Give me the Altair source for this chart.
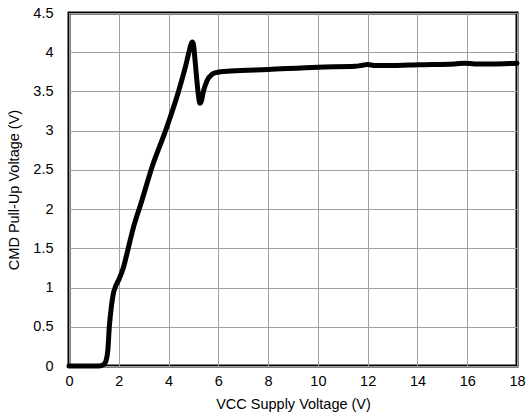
import altair as alt
import pandas as pd

vcc = [0, 1.2, 1.4, 1.5, 1.56, 1.62, 1.7, 1.78, 1.88, 2.0, 2.18, 2.38, 2.6, 2.9,
       3.35, 3.88, 4.4, 4.65, 4.82, 4.9, 4.95, 5.0, 5.05, 5.12, 5.2, 5.26, 5.32,
       5.4, 5.55, 5.75, 5.9, 6.5, 8, 10, 11.5, 11.8, 12.0, 12.3, 13, 14, 15.5,
       15.9, 16.3, 17, 18]
cmd = [0, 0, 0.02, 0.08, 0.2, 0.5, 0.75, 0.92, 1.02, 1.1, 1.25, 1.5, 1.78, 2.08,
       2.55, 3.0, 3.5, 3.78, 4.0, 4.1, 4.13, 4.1, 3.95, 3.7, 3.45, 3.35, 3.38,
       3.5, 3.64, 3.72, 3.74, 3.76, 3.78, 3.81, 3.82, 3.835, 3.845, 3.83, 3.83,
       3.84, 3.85, 3.86, 3.85, 3.85, 3.86]

x_ticks = [0, 2, 4, 6, 8, 10, 12, 14, 16, 18]
y_ticks = [0, 0.5, 1, 1.5, 2, 2.5, 3, 3.5, 4, 4.5]

df = pd.DataFrame({"vcc": vcc, "cmd": cmd})

font = "Liberation Sans"

chart = alt.Chart(df).mark_line(
    color="black", strokeWidth=5, interpolate="monotone", strokeJoin="round", strokeCap="round"
).encode(
    x=alt.X("vcc:Q", scale=alt.Scale(domain=[0, 18], nice=False),
            axis=alt.Axis(values=x_ticks, title="VCC Supply Voltage (V)", ticks=False,
                          domain=False, labelPadding=8, titlePadding=10, labelFlush=False,
                          gridColor="#a0a0a0", gridWidth=1)),
    y=alt.Y("cmd:Q", scale=alt.Scale(domain=[0, 4.5], nice=False),
            axis=alt.Axis(values=y_ticks, title="CMD Pull-Up Voltage (V)", ticks=False,
                          domain=False, labelPadding=16, titlePadding=11, labelFlush=False,
                          gridColor="#a0a0a0", gridWidth=1,
                          labelExpr="datum.value")),
).properties(
    width=448, height=353,
    padding={"left": 69, "top": 13, "right": 10, "bottom": 50},
    autosize=alt.AutoSizeParams(type="none"),
).configure_view(
    stroke="black", strokeWidth=3
).configure_axis(
    labelFont=font, titleFont=font, labelFontSize=14.5, titleFontSize=14.5,
    labelColor="black", titleColor="black", titleFontWeight="normal"
)

chart.save("out.html", embed_options={"renderer": "svg", "actions": False})
